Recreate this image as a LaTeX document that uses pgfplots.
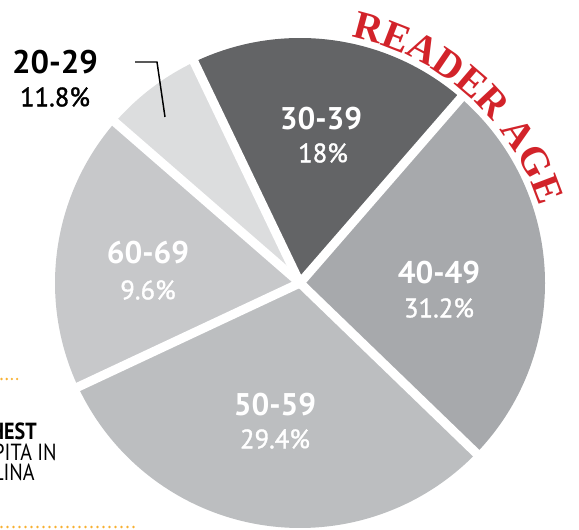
\documentclass[border=0pt]{standalone}
\usepackage{pgfplots}
\pgfplotsset{compat=1.18}
\usepackage{fontspec}
\setmainfont{PT Sans}
\newfontfamily\titlefont{Liberation Serif}
\newfontfamily\pctfont{PT Sans}[FakeBold=1.3]
\newfontfamily\condfont{PT Sans}[FakeStretch=0.86]
\usetikzlibrary{decorations.text}
\definecolor{c2029}{HTML}{DCDDDE}
\definecolor{c3039}{HTML}{636466}
\definecolor{c4049}{HTML}{A7A9AC}
\definecolor{c5059}{HTML}{BCBEC0}
\definecolor{c6069}{HTML}{C7C8CA}
\definecolor{agered}{HTML}{D2232A}
\definecolor{dotorange}{HTML}{F7B133}
\newcommand\lab{\fontsize{23.5pt}{24pt}\selectfont\bfseries}
\newcommand\pct{\pctfont\fontsize{20pt}{21pt}\selectfont}
\begin{document}
\begin{tikzpicture}
\begin{axis}[x=0.75pt,y=0.75pt,xmin=0,xmax=579,ymin=0,ymax=530,
  hide axis,clip=false,scale only axis,at={(0,0)},anchor=south west]
% slice boundaries (degrees, counter-clockwise from east):
% 40-49: 316.0->409.0, 30-39: 49.0->115.6, 20-29: 115.6->139.0,
% 60-69: 139.0->205.1, 50-59: 205.1->316.0 ; radius 245 px = 183.75pt
\fill[c4049] (axis cs:300,247) -- ++(-44:183.75pt) arc[start angle=-44,end angle=49,radius=183.75pt] -- cycle;
\fill[c3039] (axis cs:300,247) -- ++(49:183.75pt) arc[start angle=49,end angle=115.6,radius=183.75pt] -- cycle;
\fill[c2029] (axis cs:300,247) -- ++(115.6:183.75pt) arc[start angle=115.6,end angle=139,radius=183.75pt] -- cycle;
\fill[c6069] (axis cs:300,247) -- ++(139:183.75pt) arc[start angle=139,end angle=205.1,radius=183.75pt] -- cycle;
\fill[c5059] (axis cs:300,247) -- ++(205.1:183.75pt) arc[start angle=205.1,end angle=316,radius=183.75pt] -- cycle;
\draw[white,line width=6.75pt] (axis cs:300,247) -- ++(49:190pt);
\draw[white,line width=6.75pt] (axis cs:300,247) -- ++(115.6:190pt);
\draw[white,line width=6.75pt] (axis cs:300,247) -- ++(139:190pt);
\draw[white,line width=6.75pt] (axis cs:300,247) -- ++(205.1:190pt);
\draw[white,line width=6.75pt] (axis cs:300,247) -- ++(316:190pt);
% labels
\node[white] at (axis cs:321,411) {\lab 30-39};
\node[white] at (axis cs:323,377) {\pct 18\%};
\node[white] at (axis cs:439,257) {\lab 40-49};
\node[white] at (axis cs:439,222) {\pct 31.2\%};
\node[white] at (axis cs:275,125) {\lab 50-59};
\node[white] at (axis cs:275,91) {\pct 29.4\%};
\node[white] at (axis cs:148,277) {\lab 60-69};
\node[white] at (axis cs:148,240) {\pct 9.6\%};
\node[black] at (axis cs:55,468) {\fontsize{24.5pt}{25pt}\selectfont\bfseries 20-29};
\node[black] at (axis cs:55,433) {\pct 11.8\%};
\draw[black,line width=1.1pt] (axis cs:135,468) -- (axis cs:157,468) -- (axis cs:165,413);
\end{axis}
\begin{scope}[x=0.75pt,y=0.75pt]
\path[decorate,decoration={text along path,text align=center,text color=agered,
  text={|\titlefont\fontsize{30pt}{31pt}\selectfont\bfseries|READER AGE}}]
  ([shift={(80:188.5pt)}]300,247) arc[start angle=80,end angle=16,radius=188.5pt];
\node[anchor=east,inner sep=0pt] at (37,98.5) {\condfont\fontsize{17.5pt}{18pt}\selectfont\bfseries HIGHEST};
\node[anchor=east,inner sep=0pt] at (57,77.5) {\condfont\fontsize{17.5pt}{18pt}\selectfont PER CAPITA IN};
\node[anchor=east,inner sep=0pt] at (35,57.5) {\condfont\fontsize{17.5pt}{18pt}\selectfont CAROLINA};
\draw[dotorange,line width=2pt,line cap=round,dash pattern=on 0pt off 3.9pt] (1.5,151) -- (21,151);
\draw[dotorange,line width=2pt,line cap=round,dash pattern=on 0pt off 4.5pt] (1.5,3) -- (136,3);
\end{scope}
\pgfresetboundingbox
\path[use as bounding box] (0,0) rectangle (434.25pt,397.5pt);
\end{tikzpicture}
\end{document}
